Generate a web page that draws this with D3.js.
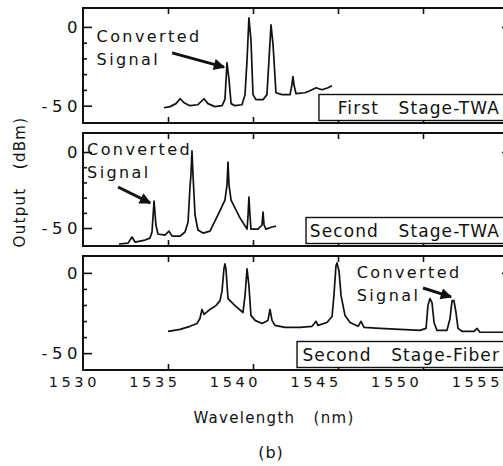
<!DOCTYPE html>
<html>
<head>
<meta charset="utf-8">
<script src="https://cdn.jsdelivr.net/npm/d3@7"></script>
<style>
  body { margin: 0; background: #fff; }
  svg text { font-family: "DejaVu Sans", sans-serif; fill: #111; }
</style>
</head>
<body>
<div id="chart"></div>
<script>
// spectra: wavelength (nm) and output (dBm) for each stage
var firstTwaNm = [1534.76, 1535.12, 1535.47, 1535.71, 1535.94, 1536.29, 1536.76, 1537.12, 1537.35, 1537.76, 1538.18, 1538.35, 1538.47, 1538.59, 1538.71, 1538.94, 1539.35, 1539.53, 1539.65, 1539.76, 1539.88, 1540.0, 1540.18, 1540.59, 1540.82, 1540.94, 1541.06, 1541.18, 1541.35, 1541.71, 1542.18, 1542.29, 1542.35, 1542.41, 1542.53, 1543.06, 1543.35, 1543.71, 1544.06, 1544.41, 1544.65];
var firstTwaDb = [-51.3, -50.6, -48.7, -45.6, -48.1, -50, -49.4, -45.6, -48.7, -50.6, -50, -46, -22.8, -33.5, -48.7, -50, -49.4, -43, -20.9, 5.7, -8.2, -43, -46.2, -46.2, -43, -20.9, 1.3, -11.4, -41.8, -43, -43, -36.7, -31.6, -36.7, -42.4, -41.8, -40.5, -38.6, -39.9, -38.6, -37.3];

var secondTwaNm = [1532.12, 1532.65, 1532.88, 1533.06, 1533.65, 1533.94, 1534.06, 1534.18, 1534.29, 1534.41, 1534.82, 1535.06, 1535.24, 1535.71, 1536.0, 1536.18, 1536.29, 1536.35, 1536.41, 1536.47, 1536.59, 1536.76, 1537.06, 1537.47, 1537.94, 1538.35, 1538.47, 1538.53, 1538.59, 1538.71, 1539.24, 1539.65, 1539.71, 1539.76, 1539.82, 1539.88, 1540.29, 1540.53, 1540.59, 1540.65, 1540.76, 1541.12, 1541.35];
var secondTwaDb = [-60.5, -59.9, -55.9, -59.2, -57.9, -56.6, -52.6, -32.2, -48, -53.9, -54.6, -52, -55.3, -55.3, -52.6, -46, -23.7, -15, 0.7, -15, -41.4, -51.3, -53.3, -52, -41.4, -31.6, -21.7, -6.6, -21.7, -31.6, -43.4, -50.7, -41.4, -29.6, -41.4, -50.7, -50.7, -48, -39.5, -48, -50.7, -49.3, -48.7];

var fiberNm = [1535.0, 1535.71, 1536.29, 1536.71, 1536.88, 1537.0, 1537.12, 1537.47, 1537.82, 1538.06, 1538.18, 1538.29, 1538.35, 1538.41, 1538.53, 1538.94, 1539.41, 1539.53, 1539.65, 1539.76, 1539.88, 1540.12, 1540.53, 1540.88, 1541.0, 1541.12, 1541.29, 1541.88, 1542.76, 1543.47, 1543.71, 1543.82, 1544.35, 1544.65, 1544.76, 1544.88, 1544.94, 1545.06, 1545.18, 1545.41, 1545.71, 1546.18, 1546.35, 1546.53, 1547.47, 1548.65, 1549.82, 1550.18, 1550.29, 1550.41, 1550.53, 1550.65, 1550.82, 1551.41, 1551.59, 1551.71, 1551.82, 1551.94, 1552.06, 1552.29, 1553.0, 1553.18, 1553.35, 1555.0];
var fiberDb = [-36.4, -35.2, -33.3, -31.5, -28.4, -22.8, -25.9, -22.8, -20.4, -17.3, -11.1, 2.5, 5.6, 2.5, -16, -20.4, -24.7, -14.2, 2.5, -8, -26.5, -29.6, -31.5, -29.6, -22.8, -29.6, -32.7, -34, -34, -33.3, -30.2, -32.7, -30.9, -27.2, -14.2, 4.3, 6.2, 1.2, -14.2, -26.5, -30.9, -33.3, -30.2, -34, -34.6, -35.2, -35.8, -34.6, -20.4, -16, -18.5, -30.9, -35.8, -35.8, -28.4, -17.3, -17.3, -24.7, -34.6, -36.4, -36.4, -34.6, -37, -37];

var stageNames = ["First   Stage-TWA", "Second   Stage-TWA", "Second   Stage-Fiber"];
var xTickValues = [1530, 1535, 1540, 1545, 1550, 1555];
var yTickLabels = [0, -50];

// ukuran
var width = 503, height = 466;
var svg = d3.select("#chart").append("svg")
    .attr("width", width)
    .attr("height", height);

var x = d3.scaleLinear().domain([1530, 1555]).range([83, 508]);
// label row in the figure is a little narrower than the tick row
var xLab = d3.scaleLinear().domain([1530, 1555]).range([72, 475]);

var panels = [
    { nm: firstTwaNm, db: firstTwaDb, top: 8, bottom: 123, dom: [-61, 12],
      text: [1530.8, -9.5], arrow: [1535.24, -16.5, 1538.3, -25.5], box: 1543.88 },
    { nm: secondTwaNm, db: secondTwaDb, top: 133, bottom: 246, dom: [-61.8, 12.5],
      text: [1530.24, -2], arrow: [1532.06, -23, 1533.95, -33.5], box: 1543.12 },
    { nm: fiberNm, db: fiberDb, top: 256, bottom: 370, dom: [-60.5, 10.5],
      text: [1546.1, -3.2], arrow: [1550.0, -9.4, 1551.65, -15], box: 1542.59 }
];

svg.append("defs").append("marker")
    .attr("id", "head")
    .attr("viewBox", "0 0 10 10")
    .attr("refX", 9).attr("refY", 5)
    .attr("markerWidth", 5).attr("markerHeight", 3.8)
    .attr("markerUnits", "strokeWidth")
    .attr("orient", "auto")
    .append("path")
    .attr("d", "M0,0 L10,5 L0,10 Z")
    .attr("fill", "#111");

function thin(a) {
    a.select(".domain").remove();
    a.selectAll("line").attr("stroke", "#111").attr("stroke-width", 1.6);
}

panels.forEach(function (p, i) {
    var y = d3.scaleLinear().domain(p.dom).range([p.bottom, p.top]);
    var g = svg.append("g");

    // frame
    g.append("rect")
        .attr("x", x(1530)).attr("y", p.top)
        .attr("width", x(1555) - x(1530)).attr("height", p.bottom - p.top)
        .attr("fill", "none").attr("stroke", "#111").attr("stroke-width", 2);

    // tick marks top & bottom
    g.append("g")
        .attr("transform", "translate(0," + p.bottom + ")")
        .call(d3.axisTop(x).tickValues(xTickValues.slice(1, 5)).tickSize(6).tickFormat(""))
        .call(thin);
    g.append("g")
        .attr("transform", "translate(0," + p.top + ")")
        .call(d3.axisBottom(x).tickValues(xTickValues.slice(1, 5)).tickSize(6).tickFormat(""))
        .call(thin);

    // left ticks: minor every 10, major at 0 and -50
    g.append("g")
        .attr("transform", "translate(" + x(1530) + ",0)")
        .call(d3.axisRight(y).tickValues([-40, -30, -20, -10]).tickSize(4).tickFormat(""))
        .call(thin);
    g.append("g")
        .attr("transform", "translate(" + x(1530) + ",0)")
        .call(d3.axisRight(y).tickValues(yTickLabels).tickSize(9).tickFormat(""))
        .call(thin);
    g.append("g")
        .attr("transform", "translate(" + x(1555) + ",0)")
        .call(d3.axisLeft(y).tickValues([0]).tickSize(6).tickFormat(""))
        .call(thin);

    // y labels
    g.selectAll(".ylab")
        .data(yTickLabels)
        .enter().append("text")
        .attr("x", 82)
        .attr("y", function (d) { return y(d); })
        .attr("dy", "0.36em")
        .attr("text-anchor", "end")
        .style("font-size", "16.5px")
        .style("letter-spacing", "4.5px")
        .text(function (d) { return d === 0 ? "0" : "-50"; });

    // spectrum
    var pts = p.nm.map(function (d, k) { return [d, p.db[k]]; });
    g.append("path")
        .datum(pts)
        .attr("fill", "none")
        .attr("stroke", "#111")
        .attr("stroke-width", 1.7)
        .attr("stroke-linejoin", "round")
        .attr("d", d3.line().x(function (d) { return x(d[0]); }).y(function (d) { return y(d[1]); }));

    // stage label box
    g.append("rect")
        .attr("x", x(p.box)).attr("y", p.bottom - 28.5)
        .attr("width", x(1555) - x(p.box) + 5).attr("height", 26)
        .attr("fill", "#fff").attr("stroke", "#111").attr("stroke-width", 1.4);
    g.append("text")
        .attr("x", 500)
        .attr("y", p.bottom - 9.5)
        .attr("text-anchor", "end")
        .style("font-size", "17px")
        .style("letter-spacing", "1.1px")
        .style("white-space", "pre")
        .text(stageNames[i]);

    // annotation
    var t = g.append("text")
        .attr("x", x(p.text[0]))
        .attr("y", y(p.text[1]))
        .style("font-size", "16px")
        .style("letter-spacing", "2.4px");
    t.append("tspan").text("Converted");
    t.append("tspan").attr("x", x(p.text[0])).attr("dy", 23).text("Signal");

    g.append("line")
        .attr("x1", x(p.arrow[0])).attr("y1", y(p.arrow[1]))
        .attr("x2", x(p.arrow[2])).attr("y2", y(p.arrow[3]))
        .attr("stroke", "#111").attr("stroke-width", 3)
        .attr("marker-end", "url(#head)");
});

// x tick labels
svg.append("g")
    .attr("transform", "translate(0,375)")
    .call(d3.axisBottom(xLab).tickValues(xTickValues).tickSize(0).tickPadding(2).tickFormat(d3.format("d")))
    .call(function (a) {
        a.select(".domain").remove();
        a.selectAll("text")
            .style("font-family", "'DejaVu Sans', sans-serif")
            .style("font-size", "14.5px")
            .style("letter-spacing", "3.6px")
            .attr("dx", "1.8px")
            .attr("fill", "#111");
    });

// judul sumbu
svg.append("text")
    .attr("x", 274).attr("y", 423)
    .attr("text-anchor", "middle")
    .style("font-size", "15px")
    .style("letter-spacing", "1.3px")
    .style("white-space", "pre")
    .text("Wavelength   (nm)");

svg.append("text")
    .attr("transform", "translate(25,182) rotate(-90)")
    .attr("text-anchor", "middle")
    .style("font-size", "15px")
    .style("letter-spacing", "1.3px")
    .style("white-space", "pre")
    .text("Output   (dBm)");

svg.append("text")
    .attr("x", 271).attr("y", 458)
    .attr("text-anchor", "middle")
    .style("font-size", "16px")
    .style("letter-spacing", "1px")
    .text("(b)");
</script>
</body>
</html>
